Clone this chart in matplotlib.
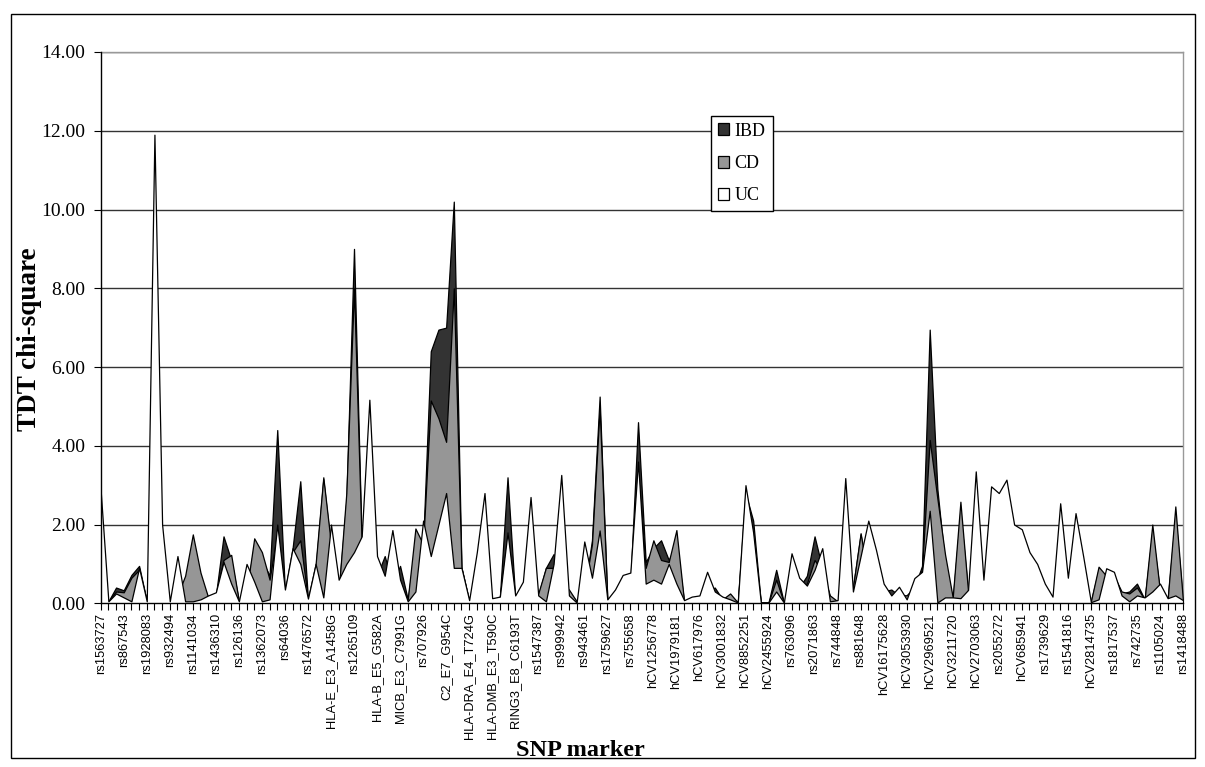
import numpy as np
import matplotlib
matplotlib.use("Agg")
import matplotlib.pyplot as plt
from matplotlib.patches import Patch, Rectangle

# ---------------- data ----------------
tick_labels = [
    "rs1563727", "rs867543", "rs1928083", "rs932494", "rs1141034", "rs1436310",
    "rs126136", "rs1362073", "rs64036", "rs1476572", "HLA-E_E3_A1458G", "rs1265109",
    "HLA-B_E5_G582A", "MICB_E3_C7991G", "rs707926", "C2_E7_G954C", "HLA-DRA_E4_T724G",
    "HLA-DMB_E3_T590C", "RING3_E8_C6193T", "rs1547387", "rs999942", "rs943461",
    "rs1759627", "rs755658", "hCV1256778", "hCV1979181", "hCV617976", "hCV3001832",
    "hCV8852251", "hCV2455924", "rs763096", "rs2071863", "rs744848", "rs881648",
    "hCV16175628", "hCV3053930", "hCV2969521", "hCV3211720", "hCV2703063", "rs2055272",
    "hCV685941", "rs1739629", "rs1541816", "hCV2814735", "rs1817537", "rs742735",
    "rs1105024", "rs1418488",
]

uc = [2.85, 0.05, 0.25, 0.15, 0.05, 0.90, 0.05, 11.9, 2.00, 0.05,
      1.20, 0.05, 0.05, 0.10, 0.20, 0.28, 1.05, 0.50, 0.05, 1.00,
      0.55, 0.05, 0.10, 2.00, 0.35, 1.40, 1.00, 0.12, 1.00, 0.15,
      2.00, 0.60, 1.00, 1.30, 1.70, 5.17, 1.20, 0.70, 1.86, 0.60,
      0.05, 0.30, 2.10, 1.20, 2.00, 2.80, 0.90, 0.90, 0.08, 1.30,
      2.80, 0.13, 0.17, 1.80, 0.20, 0.55, 2.70, 0.20, 0.05, 1.00,
      3.26, 0.20, 0.02, 1.57, 0.65, 1.85, 0.10, 0.35, 0.72, 0.78,
      3.60, 0.50, 0.60, 0.50, 1.00, 0.50, 0.08, 0.17, 0.20, 0.80,
      0.30, 0.17, 0.10, 0.02, 3.00, 1.80, 0.02, 0.02, 0.30, 0.02,
      1.27, 0.65, 0.45, 0.85, 1.40, 0.05, 0.08, 3.18, 0.30, 1.20,
      2.10, 1.36, 0.50, 0.20, 0.42, 0.10, 0.64, 0.80, 2.35, 0.02,
      0.15, 0.15, 0.13, 0.34, 3.35, 0.60, 2.97, 2.80, 3.14, 2.00,
      1.88, 1.30, 1.00, 0.50, 0.17, 2.54, 0.65, 2.29, 1.19, 0.03,
      0.10, 0.89, 0.80, 0.20, 0.05, 0.20, 0.15, 0.30, 0.50, 0.13,
      0.20, 0.08]

cd = [0.50, 0.05, 0.30, 0.28, 0.65, 0.85, 0.05, 0.80, 0.40, 0.05,
      0.20, 0.70, 1.75, 0.78, 0.15, 0.20, 1.10, 1.23, 0.05, 0.30,
      1.65, 1.30, 0.60, 1.80, 0.30, 1.30, 1.60, 0.10, 1.00, 3.20,
      1.50, 0.30, 2.80, 8.00, 1.50, 1.00, 0.60, 0.60, 0.50, 0.50,
      0.10, 1.90, 1.50, 5.15, 4.70, 4.10, 8.00, 0.90, 0.05, 0.30,
      0.50, 0.10, 0.15, 1.70, 0.15, 0.30, 0.50, 0.25, 0.90, 0.90,
      0.50, 0.35, 0.05, 0.30, 1.50, 4.95, 0.10, 0.20, 0.30, 0.50,
      3.30, 0.90, 1.60, 1.10, 1.05, 1.86, 0.05, 0.10, 0.10, 0.30,
      0.30, 0.10, 0.25, 0.02, 2.50, 1.50, 0.02, 0.02, 0.60, 0.02,
      0.40, 0.40, 0.50, 1.10, 0.80, 0.20, 0.05, 0.50, 0.40, 1.78,
      0.60, 0.40, 0.30, 0.20, 0.20, 0.20, 0.40, 0.85, 4.15, 2.66,
      1.24, 0.15, 2.58, 0.30, 0.50, 0.30, 0.50, 0.50, 0.50, 0.40,
      0.40, 0.30, 0.30, 0.20, 0.10, 0.40, 0.30, 0.40, 0.30, 0.05,
      0.93, 0.70, 0.70, 0.30, 0.25, 0.40, 0.10, 2.00, 0.30, 0.10,
      2.46, 0.05]

ibd = [0.80, 0.05, 0.40, 0.33, 0.72, 0.95, 0.05, 1.50, 0.50, 0.05,
       0.30, 0.55, 1.40, 0.60, 0.15, 0.20, 1.70, 1.10, 0.05, 0.30,
       1.50, 1.10, 0.70, 4.40, 0.30, 1.40, 3.10, 0.10, 0.90, 3.15,
       1.40, 0.30, 2.60, 9.00, 1.50, 1.00, 0.70, 1.20, 0.50, 0.95,
       0.10, 1.50, 1.50, 6.40, 6.95, 7.00, 10.2, 0.90, 0.05, 0.30,
       0.50, 0.10, 0.15, 3.20, 0.15, 0.30, 0.50, 0.20, 0.90, 1.25,
       0.50, 0.30, 0.05, 0.30, 1.60, 5.25, 0.10, 0.20, 0.30, 0.50,
       4.60, 1.05, 1.40, 1.60, 1.10, 1.50, 0.05, 0.10, 0.10, 0.30,
       0.40, 0.10, 0.20, 0.02, 2.80, 2.10, 0.02, 0.02, 0.85, 0.02,
       0.40, 0.40, 0.70, 1.70, 0.90, 0.15, 0.05, 0.60, 0.40, 1.75,
       0.60, 0.40, 0.30, 0.35, 0.20, 0.20, 0.40, 0.95, 6.95, 2.90,
       1.00, 0.10, 2.30, 0.30, 0.50, 0.30, 0.50, 0.50, 0.50, 0.40,
       0.40, 0.30, 0.30, 0.20, 0.10, 0.40, 0.30, 0.40, 0.30, 0.05,
       0.85, 0.70, 0.70, 0.25, 0.30, 0.50, 0.10, 1.80, 0.30, 0.10,
       2.20, 0.05]

series_names = ["IBD", "CD", "UC"]
series_colors = ["#333333", "#969696", "#ffffff"]

# ---------------- figure ----------------
W, H = 1205, 767
fig = plt.figure(figsize=(W / 100, H / 100), dpi=100)
fig.patch.set_facecolor("white")

L, R, T, B = 100.7, 1183.0, 52.0, 603.3
ax = fig.add_axes([L / W, 1 - B / H, (R - L) / W, (B - T) / H])

x = np.arange(len(uc))
for k, (vals, col) in enumerate(zip([ibd, cd, uc], series_colors)):
    ax.fill_between(x, 0, vals, facecolor=col, edgecolor="black",
                    linewidth=0.9, zorder=2 + k, label=series_names[k])

ax.set_xlim(0, len(uc) - 1)
ax.set_ylim(0, 14)

serif = ["Liberation Serif", "DejaVu Serif"]
sans = ["Liberation Sans", "DejaVu Sans"]

ax.set_yticks(np.arange(0, 15, 2))
ax.set_yticklabels([f"{v:.2f}" for v in np.arange(0, 15, 2)],
                   fontfamily=serif, fontsize=14)
ax.tick_params(axis="y", direction="out", length=5, width=0.8, pad=6,
               color="black")

ax.set_xticks(x)
lab = [""] * len(x)
for j, t in enumerate(tick_labels):
    lab[3 * j] = t
ax.set_xticklabels(lab, rotation=90, fontfamily=sans, fontsize=9.3)
ax.tick_params(axis="x", direction="out", length=5, width=0.8, pad=2,
               color="black")

ax.set_axisbelow(True)
ax.yaxis.grid(True, color="#333333", linewidth=1.0, zorder=0)
ax.xaxis.grid(False)
for s in ["left", "bottom"]:
    ax.spines[s].set_color("black")
    ax.spines[s].set_linewidth(1.0)
    ax.spines[s].set_zorder(10)
for s in ["top", "right"]:
    ax.spines[s].set_color("#999999")
    ax.spines[s].set_linewidth(1.0)

# axis titles (y title is clipped at its top, as in the original)
ylab = fig.text(30 / W, 1 - 431 / H, "TDT chi-square", rotation=90,
                ha="center", va="bottom", fontfamily=serif,
                fontweight="bold", fontsize=19.5)
ylab.set_clip_path(Rectangle((0, 1 - 431 / H - 0.01), 0.1, (431 - 243) / H + 0.01,
                             transform=fig.transFigure))
fig.text(580 / W, 1 - 750 / H, "SNP marker", ha="center", va="center",
         fontfamily=serif, fontweight="bold", fontsize=17.5)

# legend
handles = [Patch(facecolor=c, edgecolor="black", linewidth=0.9)
           for c in series_colors]
leg = ax.legend(handles, series_names, loc="upper left",
                bbox_to_anchor=(710.7 / W, 1 - 115.7 / H),
                bbox_transform=fig.transFigure, frameon=True, fancybox=False,
                shadow=False, prop={"family": serif, "size": 13},
                handlelength=0.65, handleheight=0.65, handletextpad=0.3,
                labelspacing=0.85, borderpad=0.38, borderaxespad=0.0)
leg.get_frame().set_edgecolor("black")
leg.get_frame().set_linewidth(1.0)
leg.get_frame().set_facecolor("white")
leg.get_frame().set_alpha(1.0)
leg.set_zorder(20)

# outer chart border
fig.patches.append(Rectangle((10.5 / W, 1 - 758 / H), (1195 - 10.5) / W,
                             (758 - 14) / H, transform=fig.transFigure,
                             fill=False, edgecolor="black", linewidth=1.0))

fig.savefig("out.png", dpi=100)
